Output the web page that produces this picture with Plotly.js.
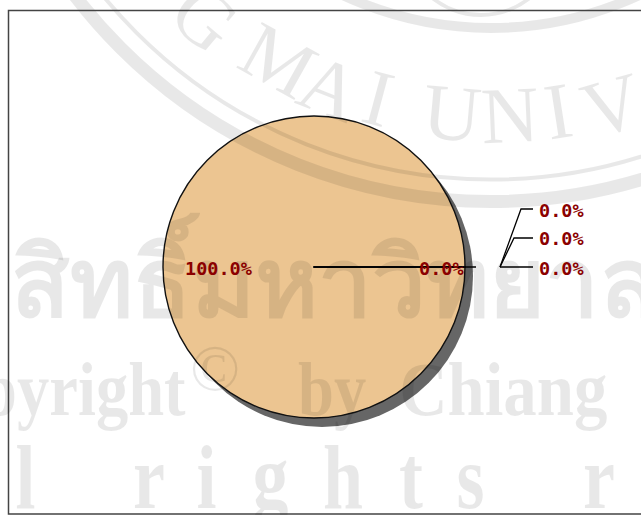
<!DOCTYPE html>
<html>
<head>
<meta charset="utf-8">
<script src="https://cdn.plot.ly/plotly-3.0.1.min.js"></script>
<style>html,body{margin:0;padding:0;background:#fff;overflow:hidden}</style>
</head>
<body>
<div id="chart" style="width:641px;height:515px"></div>
<script>
// Data
var sliceValues = [100, 0, 0, 0, 0];
var sliceNames = ['A', 'B', 'C', 'D', 'E'];
var sliceLabels = ['100.0%', '0.0%', '0.0%', '0.0%', '0.0%'];
var sliceColors = ['#ecc591', '#ecc591', '#ecc591', '#ecc591', '#ecc591'];
var shadowColors = ['#666666', '#666666', '#666666', '#666666', '#666666'];

var W = 641, H = 515;
function px(x) { return x / W; }
function py(y) { return 1 - y / H; }

// Layout geometry (pixels)
var cx = 314, cy = 267, r = 151;
var labelPos = [[219, 268], [441, 268], [561, 268], [561, 239], [561, 210]];
var leaders = [
  [[500, 267], [533, 267]],
  [[500, 267], [514, 238], [533, 238]],
  [[500, 267], [521, 209], [533, 209]],
  [[314, 267], [476, 267]]
];

// Watermark
var wmInk = 'rgba(0,0,0,0.09)';
var sealC = [491, -322];
var sealRings = [[523.5, 13], [501.5, 4], [350, 10]];
var emblem = [481, -63, 78, 4];
var sealLetters = [['G', 205, 18], ['M', 278, 60], ['A', 330, 88], ['I', 378, 98],
                   ['U', 452, 113], ['N', 510, 115], ['I', 558, 111], ['V', 612, 105]];
var wmWords = [
  {t: 'สิทธิ์มหาวิทยาล', x: 334, y: 278, s: 96, b: true, sx: 1, f: 'Noto Sans, DejaVu Sans, sans-serif'},
  {t: 'pyright', x: 83, y: 389, s: 76, b: true, sx: 0.85},
  {t: '©', x: 215, y: 367, s: 66, sx: 1},
  {t: 'by', x: 332, y: 389, s: 76, b: true, sx: 0.85},
  {t: 'Chiang', x: 503, y: 389, s: 76, b: true, sx: 0.88},
  {t: 'l', x: 25, y: 477, s: 90, b: true, sx: 0.8},
  {t: 'r', x: 149, y: 477, s: 90, b: true, sx: 0.8},
  {t: 'i', x: 206, y: 477, s: 90, b: true, sx: 0.8},
  {t: 'g', x: 270, y: 477, s: 90, b: true, sx: 0.8},
  {t: 'h', x: 343, y: 477, s: 90, b: true, sx: 0.8},
  {t: 't', x: 411, y: 477, s: 90, b: true, sx: 0.8},
  {t: 's', x: 470, y: 477, s: 90, b: true, sx: 0.8},
  {t: 'r', x: 599, y: 477, s: 90, b: true, sx: 0.8}
];

function pieDomain(ox, oy) {
  return {x: [px(cx - r + ox), px(cx + r + ox)], y: [py(cy + r + oy), py(cy - r + oy)]};
}

var traces = [
  {type: 'pie', values: sliceValues, labels: sliceNames, sort: false, textinfo: 'none', rotation: 90,
   hoverinfo: 'skip', showlegend: false, domain: pieDomain(8, 9),
   marker: {colors: shadowColors, line: {width: 0}}},
  {type: 'pie', values: sliceValues, labels: sliceNames, sort: false, textinfo: 'none', rotation: 90,
   hoverinfo: 'skip', showlegend: false, domain: pieDomain(0, 0),
   marker: {colors: sliceColors, line: {color: '#111111', width: 1.4}}}
];

function ring(x, y, rad, w) {
  return {type: 'circle', xref: 'paper', yref: 'paper', layer: 'above',
    x0: px(x - rad), x1: px(x + rad), y0: py(y + rad), y1: py(y - rad),
    line: {color: wmInk, width: w}, fillcolor: 'rgba(0,0,0,0)'};
}
var shapes = sealRings.map(function (g) { return ring(sealC[0], sealC[1], g[0], g[1]); });
shapes.push(ring(emblem[0], emblem[1], emblem[2], emblem[3]));
leaders.forEach(function (pts) {
  var d = pts.map(function (p, i) { return (i ? 'L' : 'M') + px(p[0]) + ',' + py(p[1]); }).join(' ');
  shapes.push({type: 'path', xref: 'paper', yref: 'paper', layer: 'above', path: d,
    line: {color: '#000000', width: 1.3}});
});
shapes.push({type: 'rect', xref: 'paper', yref: 'paper', layer: 'above',
  x0: px(8.5), x1: px(700), y0: py(514), y1: py(10.5),
  line: {color: '#444444', width: 1.5}, fillcolor: 'rgba(0,0,0,0)'});

var annotations = [];
sealLetters.forEach(function (l) {
  var rot = Math.atan2(sealC[0] - l[1], l[2] - sealC[1]) * 180 / Math.PI;
  annotations.push({xref: 'paper', yref: 'paper', x: px(l[1]), y: py(l[2]), text: l[0], showarrow: false,
    textangle: rot, xanchor: 'center', yanchor: 'middle',
    font: {family: 'Liberation Serif', size: 80, color: wmInk}});
});
var wordStart = annotations.length;
wmWords.forEach(function (w) {
  annotations.push({xref: 'paper', yref: 'paper', x: px(w.x), y: py(w.y), text: w.t, showarrow: false,
    xanchor: 'center', yanchor: 'middle',
    font: {family: w.f || 'Liberation Serif', size: w.s, color: wmInk, weight: w.b ? 'bold' : 'normal'}});
});
sliceLabels.forEach(function (t, i) {
  annotations.push({xref: 'paper', yref: 'paper', x: px(labelPos[i][0]), y: py(labelPos[i][1]), text: t,
    showarrow: false, xanchor: 'center', yanchor: 'middle',
    font: {family: 'DejaVu Sans Mono', size: 18.5, color: '#8b0000', weight: 'bold'}});
});

Plotly.newPlot('chart', traces, {
  width: W, height: H, margin: {l: 0, r: 0, t: 0, b: 0},
  paper_bgcolor: '#ffffff', showlegend: false,
  shapes: shapes, annotations: annotations
}, {displayModeBar: false, staticPlot: true}).then(function () {
  // Condense the watermark words horizontally about their own centres.
  wmWords.forEach(function (w, i) {
    if (w.sx === 1) return;
    var g = document.querySelector('.annotation[data-index="' + (wordStart + i) + '"] text.annotation-text');
    if (!g) return;
    var x = parseFloat(g.getAttribute('x')) || 0;
    g.setAttribute('transform', 'translate(' + x + ',0) scale(' + w.sx + ',1) translate(' + (-x) + ',0)');
  });
});
</script>
</body>
</html>
